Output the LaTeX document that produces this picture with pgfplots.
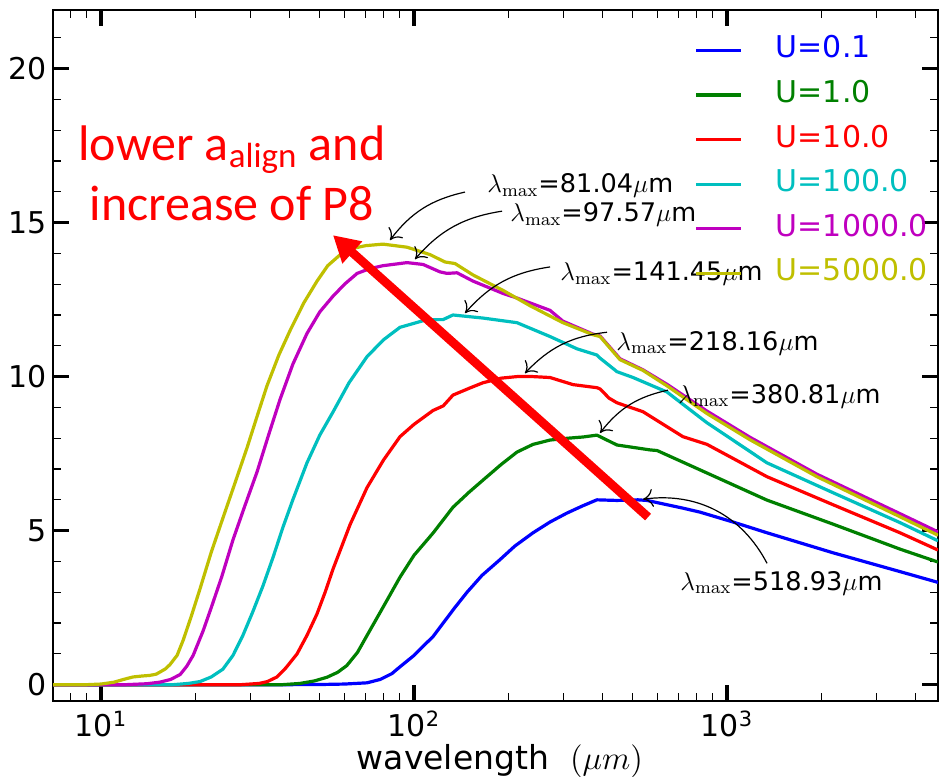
\RequirePackage{fix-cm}
\documentclass[border=0pt]{standalone}
\usepackage[no-math]{fontspec}
\setmainfont{DejaVu Sans}
\newfontfamily\calib{Carlito}
\usepackage{pgfplots}
\pgfplotsset{compat=1.18}
\usetikzlibrary{arrows.meta}
\definecolor{mb}{rgb}{0,0,1}
\definecolor{mg}{rgb}{0,0.5,0}
\definecolor{mr}{rgb}{1,0,0}
\definecolor{mc}{rgb}{0,0.75,0.75}
\definecolor{mm}{rgb}{0.75,0,0.75}
\definecolor{my}{rgb}{0.75,0.75,0}
\newcommand{\lm}[1]{$\lambda_{\mathrm{max}}$=#1$\mu$m}
\begin{document}
\begin{tikzpicture}
\begin{axis}[
  at={(0,0)}, anchor=south west,
  scale only axis, width=442.5pt, height=345.5pt,
  xmode=log, log basis x=10,
  xmin=7.025, xmax=4721, ymin=-0.53, ymax=21.9,
  xtick={10,100,1000},
  xticklabels={10\textsuperscript{1},10\textsuperscript{2},10\textsuperscript{3}},
  minor xtick={8,9,20,30,40,50,60,70,80,90,200,300,400,500,600,700,800,900,2000,3000,4000},
  ytick={0,5,10,15,20},
  minor ytick={1,2,3,4,6,7,8,9,11,12,13,14,16,17,18,19,21},
  tick align=inside,
  major tick length=8pt, minor tick length=4pt,
  major tick style={line width=1.6pt, black},
  minor tick style={line width=0.6pt, black},
  axis line style={line width=1pt},
  tick label style={font=\fontsize{15}{18}\selectfont},
  /pgf/number format/assume math mode=true,
  xticklabel style={anchor=base, yshift=-18pt},
  yticklabel style={inner sep=0pt, xshift=-3pt},
  xlabel={\fontsize{16.5}{19}\selectfont wavelength\ \ $(\mu m)$},
  xlabel style={at={(axis description cs:0.505,0)}, anchor=base, yshift=-34.5pt, inner sep=0pt},
  legend style={draw=none, fill=none, inner sep=0pt, at={(axis description cs:0.7246,0.963)}, anchor=north west,
    font=\fontsize{15}{18}\selectfont, row sep=7.8pt, column sep=0pt,
    nodes={inner sep=0pt, text height=11pt, text depth=3.5pt}},
  legend cell align=left,
  legend image code/.code={\draw[#1, line width=1.6pt] (0pt,0pt) -- (22.5pt,0pt); \path (39pt,0pt);},
  every axis plot/.append style={line width=1.6pt, line join=round},
]
% U=0.1
\addplot[mb] coordinates {(7,0) (40,0) (50,0.005) (60,0.02) (70.8,0.06) (78,0.17) (85,0.36) (90.2,0.58) (100,0.95) (107,1.25) (115,1.56) (125,2.05) (135,2.5) (147.7,3.0) (165,3.55) (188.3,4.06) (210,4.5) (240,4.93) (272,5.28) (308,5.57) (345,5.8) (384,6.0) (445,5.98) (519,6.0) (555,5.98) (723,5.73) (820,5.6) (1045,5.28) (1342,4.93) (2182,4.28) (3570,3.67) (4721,3.32)};
\addlegendentry{\textcolor{mb}{U=0.1}}
% U=1
\addplot[mg] coordinates {(7,0) (38,0) (43.2,0.04) (48,0.12) (52.7,0.24) (57,0.4) (61,0.62) (66,1.05) (70.8,1.6) (80,2.55) (90.2,3.49) (100,4.2) (115,4.92) (133.2,5.76) (150,6.25) (166.1,6.64) (190,7.15) (213.3,7.55) (240,7.8) (272,7.94) (310,8.0) (347,8.04) (384,8.1) (445,7.78) (568,7.62) (598,7.6) (863,6.87) (1342,5.99) (2182,5.21) (3570,4.4) (4721,3.98)};
\addlegendentry{\textcolor{mg}{U=1.0}}
% U=10
\addplot[mr] coordinates {(7,0) (28,0) (32,0.04) (34,0.1) (36.5,0.25) (39,0.55) (42.3,1.0) (45.5,1.6) (49,2.3) (52,3.0) (55.1,3.75) (62.5,5.2) (70.8,6.4) (80,7.3) (90.2,8.05) (100,8.45) (115,8.9) (124,9.05) (133.2,9.4) (150,9.62) (166.1,9.8) (190,9.95) (213.3,10.0) (240,10.0) (272,9.97) (322,9.74) (384,9.64) (393,9.6) (420,9.3) (445,9.15) (539,8.86) (723,8.05) (863,7.8) (1342,6.75) (2182,5.84) (3570,4.93) (4721,4.37)};
\addlegendentry{\textcolor{mr}{U=10.0}}
% U=100
\addplot[mc] coordinates {(7,0) (17,0) (19,0.04) (20.7,0.1) (22.5,0.25) (24.5,0.5) (26.4,0.95) (28.4,1.6) (30.5,2.35) (32.9,3.2) (35.5,4.15) (38.1,5.1) (41,6.0) (45.5,7.2) (50,8.1) (55.1,8.85) (62,9.8) (70.8,10.65) (80,11.2) (90.2,11.6) (110,11.85) (123.8,11.85) (133.2,12.0) (166.1,11.9) (213.3,11.75) (272,11.3) (332,10.9) (384,10.7) (393,10.6) (445,10.16) (501,9.97) (643,9.5) (863,8.5) (1342,7.2) (2182,6.23) (3570,5.26) (4721,4.67)};
\addlegendentry{\textcolor{mc}{U=100.0}}
% U=1000
\addplot[mm] coordinates {(7,0) (12,0) (14,0.03) (15.4,0.08) (16.7,0.17) (17.9,0.33) (18.8,0.6) (19.7,0.95) (21.2,1.75) (22.5,2.5) (24.3,3.5) (26.4,4.7) (28.8,5.8) (31.5,6.9) (34.3,8.1) (37.3,9.25) (41,10.4) (45.5,11.4) (50,12.1) (55,12.6) (60,13.0) (65.8,13.35) (72,13.5) (79.6,13.6) (95,13.7) (106.9,13.64) (121,13.4) (127.5,13.35) (137.2,13.37) (154.3,13.1) (192.4,12.7) (213.3,12.55) (272,12.15) (299,11.8) (373,11.38) (393,11.32) (455,10.58) (539,10.22) (643,9.75) (863,8.88) (1184,8.03) (1939,6.83) (3570,5.55) (4721,4.96)};
\addlegendentry{\textcolor{mm}{U=1000.0}}
% U=5000
\addplot[my] coordinates {(7,0) (9,0) (10,0.02) (11,0.08) (11.8,0.17) (12.65,0.25) (13.5,0.28) (14.3,0.3) (15,0.34) (15.5,0.42) (16.1,0.52) (16.6,0.65) (17.5,0.95) (18.3,1.44) (19.4,2.2) (20.7,3.1) (22.5,4.3) (24.5,5.4) (26.8,6.55) (29.3,7.7) (31.5,8.7) (33.9,9.7) (37,10.7) (40.2,11.5) (44.5,12.4) (49,13.1) (53,13.6) (58,13.95) (63,14.15) (70,14.25) (79.6,14.3) (95,14.2) (112.5,13.96) (125.6,13.72) (135.2,13.67) (154.3,13.3) (192.4,12.8) (234.8,12.3) (299,11.75) (373,11.36) (393,11.3) (455,10.55) (539,10.2) (643,9.7) (863,8.8) (1184,7.95) (1939,6.75) (3570,5.45) (4721,4.85)};
\addlegendentry{\textcolor{my}{U=5000.0}}
% peak annotations
\begin{scope}[font=\fontsize{12.8}{15}\selectfont]
\node[anchor=base west, inner sep=0pt] at (axis cs:171.1,15.96) {\lm{81.04}};
\node[anchor=base west, inner sep=0pt] at (axis cs:202.6,15.02) {\lm{97.57}};
\node[anchor=base west, inner sep=0pt] at (axis cs:292.8,13.13) {\lm{141.45}};
\node[anchor=base west, inner sep=0pt] at (axis cs:442.0,10.86) {\lm{218.16}};
\node[anchor=base west, inner sep=0pt] at (axis cs:697.4,9.14) {\lm{380.81}};
\node[anchor=base west, inner sep=0pt] at (axis cs:707.6,3.07) {\lm{518.93}};
\end{scope}
\begin{scope}[-{To[length=5pt,width=9pt]}, line width=0.6pt, black]
\draw (axis cs:145.5,15.99) to[bend right=20] (axis cs:83.8,14.43);
\draw (axis cs:191.1,15.37) to[bend right=20] (axis cs:100.7,13.81);
\draw (axis cs:272.0,13.56) to[bend right=20] (axis cs:145.5,12.06);
\draw (axis cs:413.6,11.44) to[bend right=20] (axis cs:226.2,10.11);
\draw (axis cs:647.9,9.56) to[bend right=20] (axis cs:392.9,8.17);
\draw (axis cs:1342,3.94) to[bend right=35] (axis cs:539,6.02);
\end{scope}
% red arrow and text
\draw[mr, line width=4.4pt, -{Triangle[length=13pt,width=14pt]}] (axis cs:559.4,5.44) -- (axis cs:55.1,14.59);
\node[mr, anchor=base, inner sep=0pt, font=\calib\fontsize{25}{30}\selectfont] at (axis cs:26.2,17.03) {lower a\textsubscript{align} and};
\node[mr, anchor=base, inner sep=0pt, font=\calib\fontsize{25}{30}\selectfont] at (axis cs:26.2,15.08) {increase of P8};
\end{axis}
\pgfresetboundingbox
\useasboundingbox (-26.5pt,-38pt) rectangle (443pt,350.5pt);
\end{tikzpicture}
\end{document}
